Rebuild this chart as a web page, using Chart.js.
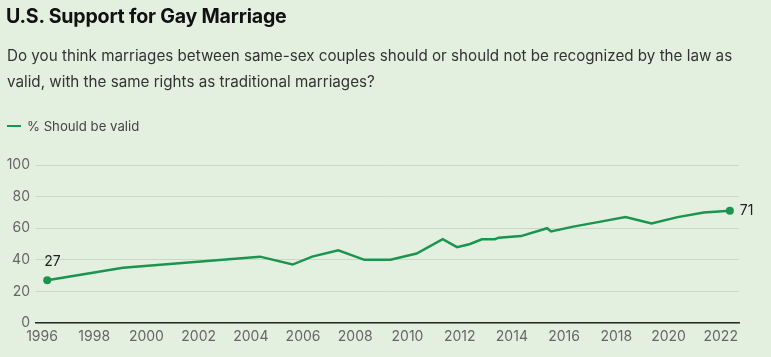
<!DOCTYPE html>
<html>
<head>
<meta charset="utf-8">
<script src="https://cdn.jsdelivr.net/npm/chart.js@4/dist/chart.umd.min.js"></script>
<style>
  html, body { margin: 0; padding: 0; }
  body { width: 771px; height: 357px; background: #e3f0df; position: relative; overflow: hidden; font-family: Inter, "Noto Sans", sans-serif; }
  #title { position: absolute; left: 6px; top: 4px; font-size: 19.6px; font-weight: 700; color: #111; letter-spacing: -0.2px; }
  #sub { position: absolute; left: 7px; top: 43px; width: 764px; font-size: 15.2px; line-height: 26px; color: #333; }
  #legend { position: absolute; left: 7px; top: 118px; font-size: 13.2px; color: #444; display: flex; align-items: center; }
  #legend .sw { width: 14px; height: 2.5px; background: #1b9450; margin-right: 6px; }
  #wrap { position: absolute; left: 0; top: 0; width: 771px; height: 357px; }
</style>
</head>
<body>
<div id="wrap"><canvas id="c"></canvas></div>
<div id="title">U.S. Support for Gay Marriage</div>
<div id="sub">Do you think marriages between same-sex couples should or should not be recognized by the law as valid, with the same rights as traditional marriages?</div>
<div id="legend"><span class="sw"></span>% Should be valid</div>
<script>
const seriesName = "% Should be valid";
const years = [1996.2, 1999.1, 2004.35, 2005.6, 2006.35, 2007.35, 2008.35, 2009.35, 2010.35, 2011.35, 2011.9, 2012.4, 2012.85, 2013.35, 2013.5, 2014.35, 2015.35, 2015.5, 2016.35, 2017.35, 2018.35, 2019.35, 2020.35, 2021.35, 2022.35];
const values = [27, 35, 42, 37, 42, 46, 40, 40, 44, 53, 48, 50, 53, 53, 54, 55, 60, 58, 61, 64, 67, 63, 67, 70, 71];
const xTicks = [1996, 1998, 2000, 2002, 2004, 2006, 2008, 2010, 2012, 2014, 2016, 2018, 2020, 2022];
const yTicks = [0, 20, 40, 60, 80, 100];

const lineColor = '#1b9450';
const lastIdx = values.length - 1;

const endLabels = {
  id: 'endLabels',
  afterDatasetsDraw(chart) {
    const meta = chart.getDatasetMeta(0);
    const ctx = chart.ctx;
    ctx.save();
    ctx.font = '14px Inter, "Noto Sans", sans-serif';
    ctx.fillStyle = '#222';
    const p0 = meta.data[0];
    ctx.textAlign = 'left';
    ctx.textBaseline = 'middle';
    ctx.fillText(String(values[0]), p0.x - 3, p0.y - 19);
    const pl = meta.data[lastIdx];
    ctx.fillText(String(values[lastIdx]), pl.x + 10, pl.y);
    ctx.restore();
  }
};

new Chart(document.getElementById('c'), {
  type: 'line',
  data: {
    datasets: [{
      label: seriesName,
      data: years.map((x, i) => ({ x: x, y: values[i] })),
      borderColor: lineColor,
      backgroundColor: lineColor,
      borderWidth: 2.5,
      tension: 0,
      pointRadius: ctx => (ctx.dataIndex === 0 || ctx.dataIndex === lastIdx) ? 4 : 0,
      pointHoverRadius: 0,
      pointBorderWidth: 0
    }]
  },
  options: {
    responsive: true,
    maintainAspectRatio: false,
    animation: false,
    layout: { padding: { top: 165, right: 32, left: 0, bottom: 0 } },
    plugins: { legend: { display: false }, tooltip: { enabled: false } },
    scales: {
      x: {
        type: 'linear',
        min: 1995.77,
        max: 2022.7,
        afterBuildTicks: s => { s.ticks = xTicks.map(v => ({ value: v })); },
        afterFit: s => { s.height = 34; },
        grid: { display: false, drawTicks: false },
        border: { display: true, color: '#2a2a2a', width: 1.5 },
        ticks: { padding: 5, color: '#666', font: { size: 14, family: 'Inter, "Noto Sans", sans-serif' }, maxRotation: 0, autoSkip: false, callback: v => String(v) }
      },
      y: {
        min: 0,
        max: 100,
        afterBuildTicks: s => { s.ticks = yTicks.map(v => ({ value: v })); },
        afterFit: s => { s.width = 36; },
        grid: { color: '#cbd8c8', lineWidth: 1, drawTicks: false },
        border: { display: false },
        ticks: { padding: 6, color: '#666', font: { size: 14, family: 'Inter, "Noto Sans", sans-serif' } }
      }
    }
  },
  plugins: [endLabels]
});
</script>
</body>
</html>
